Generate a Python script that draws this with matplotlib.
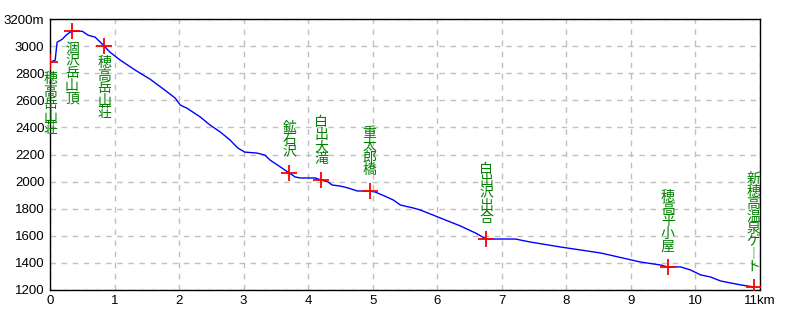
import matplotlib.pyplot as plt

# elevation profile (km, m)
dist = [0, 0.08, 0.11, 0.19, 0.25, 0.31, 0.36, 0.50, 0.59, 0.70, 0.78, 0.84,
        0.93, 1.09, 1.32, 1.55, 1.78, 1.94, 2.02, 2.12, 2.33, 2.48, 2.64, 2.79,
        2.91, 3.02, 3.21, 3.33, 3.41, 3.57, 3.71, 3.80, 3.88, 4.11, 4.20, 4.31,
        4.37, 4.50, 4.62, 4.76, 4.95, 5.04, 5.22, 5.32, 5.43, 5.63, 5.74, 6.05,
        6.36, 6.59, 6.76, 7.21, 7.44, 7.91, 8.53, 9.15, 9.46, 9.57, 9.77, 9.92,
        10.08, 10.23, 10.39, 10.54, 10.70, 10.90]
elev = [2883, 2897, 3030, 3052, 3082, 3104, 3111, 3111, 3082, 3067, 3030, 3001,
        2956, 2897, 2824, 2757, 2676, 2617, 2565, 2543, 2477, 2418, 2366, 2307,
        2248, 2218, 2211, 2196, 2159, 2108, 2063, 2034, 2027, 2027, 2012, 1997,
        1975, 1967, 1953, 1931, 1931, 1923, 1886, 1864, 1827, 1805, 1790, 1731,
        1672, 1621, 1576, 1576, 1554, 1517, 1473, 1406, 1384, 1370, 1370, 1348,
        1311, 1296, 1266, 1252, 1237, 1222]

# waypoints
wp_names = ['穂高岳山荘', '涸沢岳山頂', '穂高岳山荘', '鉱石沢', '白出大滝',
            '重太郎橋', '白出沢出合', '穂高平小屋', '新穂高温泉ゲ︱ト']
wp_dist = [0, 0.34, 0.84, 3.71, 4.20, 4.95, 6.76, 9.57, 10.90]
wp_elev = [2883, 3110, 3001, 2063, 2012, 1931, 1576, 1370, 1222]

xticks = list(range(12))
xlabels = [str(i) for i in range(11)] + ['11km']
yticks = list(range(1200, 3201, 200))
ylabels = [str(v) for v in yticks[:-1]] + ['3200m']

plt.rcParams['font.family'] = ['Liberation Sans', 'DejaVu Sans']

fig = plt.figure(figsize=(8, 3.2), dpi=100)
ax = fig.add_axes([0.0625, 0.094, 0.8875, 0.846])

ax.plot(dist, elev, color='#0000ff', lw=1.0, zorder=3)
ax.plot(wp_dist, wp_elev, ls='none', marker='+', ms=12, mew=1.3,
        color='#ff0000', zorder=4)

for name, d, e in zip(wp_names, wp_dist, wp_elev):
    txt = '\n'.join(name)
    if e > 2500:
        ax.text(d, e - 75, txt, ha='center', va='top', color='#008000',
                fontsize=10, linespacing=0.86,
                family=['Noto Sans CJK JP', 'DejaVu Sans'], zorder=5)
    else:
        ax.text(d, e + 100, txt, ha='center', va='bottom', color='#008000',
                fontsize=10, linespacing=0.86,
                family=['Noto Sans CJK JP', 'DejaVu Sans'], zorder=5)

ax.set_xlim(0, 11)
ax.set_ylim(1200, 3200)
ax.set_xticks(xticks)
ax.set_xticklabels(xlabels)
ax.set_yticks(yticks)
ax.set_yticklabels(ylabels)
ax.tick_params(length=0, labelsize=9.5, pad=4)
ax.grid(True, color='#c0c0c0', ls=(0, (4, 4)), lw=1)
ax.set_axisbelow(True)
for s in ax.spines.values():
    s.set_color('black')
    s.set_linewidth(1)

fig.savefig('out.png', dpi=100)
